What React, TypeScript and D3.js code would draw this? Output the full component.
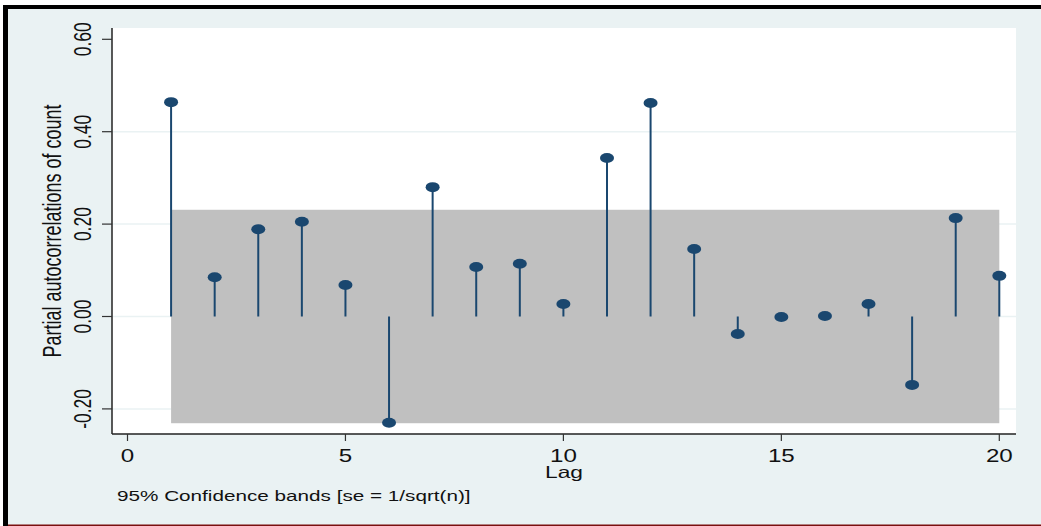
import * as d3 from 'd3';

// PACF values, lags 1..20
const lags = d3.range(1, 21);
const pacf = [
  0.464, 0.085, 0.189, 0.205, 0.068, -0.23, 0.28, 0.107, 0.114, 0.027,
  0.343, 0.462, 0.146, -0.038, -0.001, 0.001, 0.027, -0.148, 0.213, 0.088,
];
const bandHalf = 0.231; // 95% band, se = 1/sqrt(n)
const yTicks = [-0.2, 0, 0.2, 0.4, 0.6];
const yGrid = [-0.2, 0, 0.2, 0.4];
const xTicks = [0, 5, 10, 15, 20];

const W = 1041;
const H = 526;
const plot = { left: 112, right: 1016, top: 28, bottom: 434 };
const navy = '#1a476f';
const bg = '#eaf2f3';
const font = '"Liberation Sans", Arial, Helvetica, sans-serif';
const sx = 1.38; // picture is stretched horizontally

const fmtY = (t: number) => d3.format('.2f')(t).replace('\u2212', '-');

const App = () => {
  const x = d3.scaleLinear().domain([0, 20]).range([127.5, 999.3]);
  const y = d3.scaleLinear().domain([-0.2, 0.6]).range([408.9, 39.3]);

  return (
    <svg
      width={W}
      height={H}
      style={{ position: 'absolute', left: 0, top: 0, display: 'block' }}
    >
      <rect x={0} y={0} width={W} height={H} fill="#ffffff" />
      <rect x={8} y={9} width={W - 8} height={H - 10} fill={bg} />
      <rect x={3} y={5} width={W - 3} height={4} fill="#000" />
      <rect x={3} y={5} width={5} height={H - 5} fill="#000" />
      <rect x={8} y={H - 1.5} width={W - 8} height={1.5} fill="#7a1010" />

      <rect
        x={plot.left}
        y={plot.top}
        width={plot.right - plot.left}
        height={plot.bottom - plot.top}
        fill="#ffffff"
      />

      {yGrid.map((t) => (
        <line
          key={'g' + t}
          x1={plot.left}
          x2={plot.right}
          y1={y(t)}
          y2={y(t)}
          stroke={bg}
          strokeWidth={1.5}
        />
      ))}

      <rect
        x={x(1)}
        y={y(bandHalf)}
        width={x(20) - x(1)}
        height={y(-bandHalf) - y(bandHalf)}
        fill="#c0c0c0"
      />

      {lags.map((l, i) => (
        <line
          key={'s' + l}
          x1={x(l)}
          x2={x(l)}
          y1={y(0)}
          y2={y(pacf[i])}
          stroke={navy}
          strokeWidth={2}
        />
      ))}
      {lags.map((l, i) => (
        <ellipse
          key={'m' + l}
          cx={x(l)}
          cy={y(pacf[i])}
          rx={7}
          ry={5}
          fill={navy}
        />
      ))}

      {/* axes */}
      <line
        x1={plot.left}
        x2={plot.left}
        y1={plot.top}
        y2={plot.bottom}
        stroke="#222"
        strokeWidth={1.5}
      />
      <line
        x1={plot.left}
        x2={plot.right}
        y1={plot.bottom}
        y2={plot.bottom}
        stroke="#222"
        strokeWidth={1.5}
      />

      {yTicks.map((t) => (
        <g key={'y' + t}>
          <line
            x1={plot.left - 10}
            x2={plot.left}
            y1={y(t)}
            y2={y(t)}
            stroke="#333"
            strokeWidth={1.2}
          />
          <text
            transform={`translate(91,${y(t)}) scale(${sx},1) rotate(-90)`}
            textAnchor="middle"
            fontFamily={font}
            fontSize={17.5}
            fill="#111"
          >
            {fmtY(t)}
          </text>
        </g>
      ))}

      {xTicks.map((t) => (
        <g key={'x' + t}>
          <line
            x1={x(t)}
            x2={x(t)}
            y1={plot.bottom}
            y2={plot.bottom + 7}
            stroke="#333"
            strokeWidth={1.2}
          />
          <text
            transform={`translate(${x(t)},461.5) scale(${sx},1)`}
            textAnchor="middle"
            fontFamily={font}
            fontSize={17.5}
            fill="#111"
          >
            {t}
          </text>
        </g>
      ))}

      <text
        transform={`translate(61,231) scale(${sx},1) rotate(-90)`}
        textAnchor="middle"
        fontFamily={font}
        fontSize={18}
        fill="#111"
      >
        Partial autocorrelations of count
      </text>
      <text
        transform={`translate(564,478) scale(${sx},1)`}
        textAnchor="middle"
        fontFamily={font}
        fontSize={16.5}
        fill="#111"
      >
        Lag
      </text>
      <text
        transform={`translate(117,501) scale(${sx},1)`}
        fontFamily={font}
        fontSize={15}
        fill="#111"
      >
        95% Confidence bands [se = 1/sqrt(n)]
      </text>
    </svg>
  );
};

export default App;
